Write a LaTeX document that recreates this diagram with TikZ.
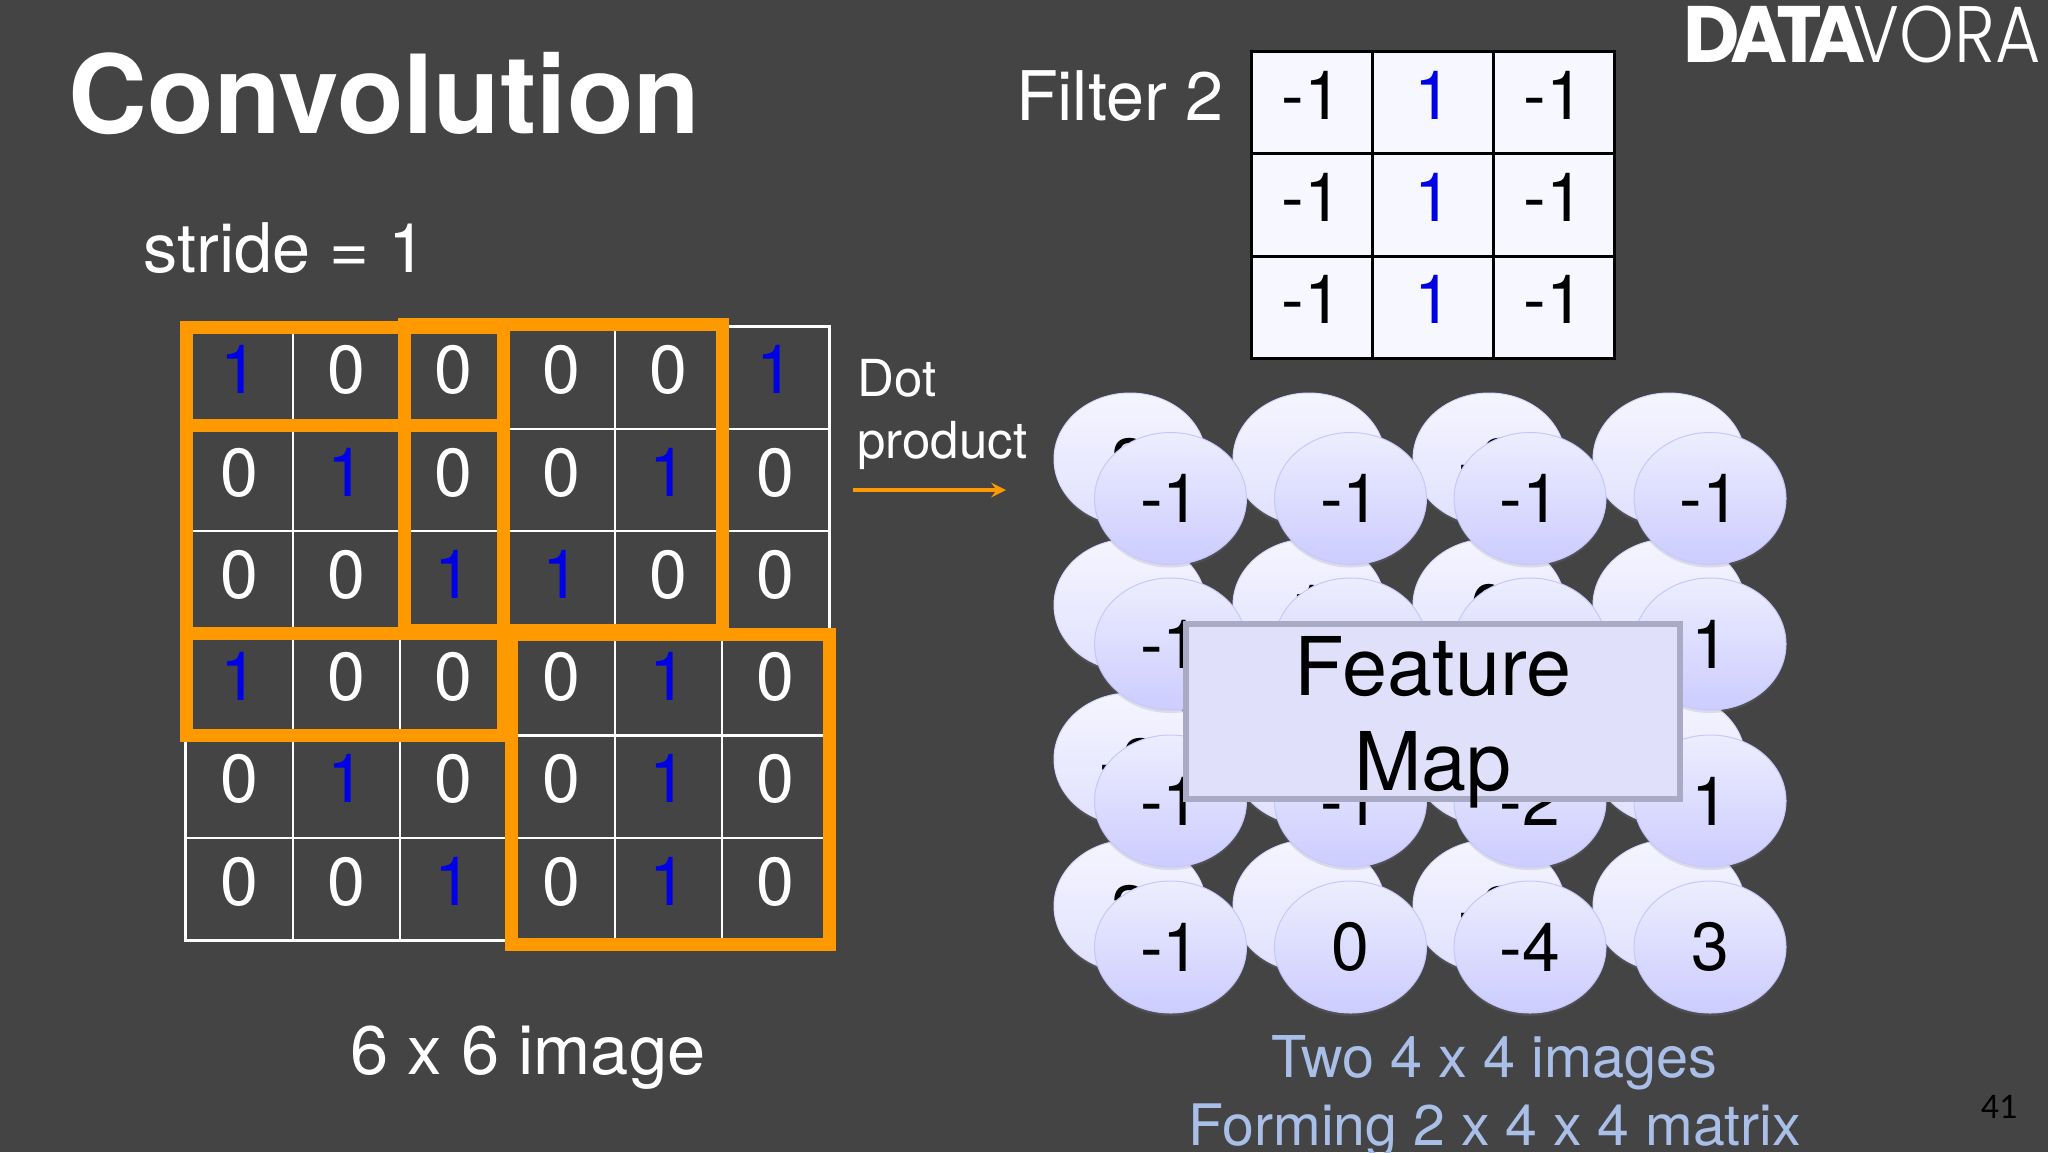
\documentclass[tikz,border=0pt]{standalone}
\usepackage{fontspec}
\setmainfont{TeX Gyre Heros}
\newfontfamily\logoheavy{Poppins}[UprightFont=*-Bold]
\newfontfamily\logolight{Poppins}[UprightFont=*-Light]
\newfontfamily\pagefont{Carlito}
\usepackage{tikz}
\usetikzlibrary{shapes.geometric,shadows}
\definecolor{slide}{HTML}{444444}
\definecolor{win}{HTML}{FF9900}
\definecolor{oneblue}{HTML}{0000E6}
\definecolor{capblue}{HTML}{A9BFE8}
\definecolor{mapline}{HTML}{AAAAC4}
\definecolor{mapfill}{HTML}{E0E0FA}
\tikzstyle{cell} = [rectangle, draw=white, line width=1.25pt, text=white, minimum width=53.65pt, minimum height=51.15pt, inner sep=0pt, outer sep=0pt, text depth=8pt, font=\fontsize{34}{40}\selectfont]
\tikzstyle{fcell} = [rectangle, draw=black, line width=1.5pt, fill=white!97!blue, text=black, minimum width=60.7pt, minimum height=51.15pt, inner sep=0pt, outer sep=0pt, text depth=8pt, font=\fontsize{34}{40}\selectfont]
\tikzstyle{one} = [text=oneblue]
\tikzstyle{back} = [ellipse, minimum width=76pt, minimum height=66pt, inner sep=0pt, draw=white!85!blue, line width=.5pt, top color=white!96!blue, bottom color=white!88!blue, drop shadow={opacity=.2,shadow xshift=0pt,shadow yshift=-1.5pt}, text=black, text height=28.4pt, font=\fontsize{34}{40}\selectfont]
\tikzstyle{front} = [ellipse, minimum width=76pt, minimum height=66pt, inner sep=0pt, draw=white!78!blue, line width=.5pt, top color=white!93!blue, bottom color=white!80!blue, drop shadow={opacity=.2,shadow xshift=0pt,shadow yshift=-1.5pt}, text=black, font=\fontsize{34}{40}\selectfont]
\tikzstyle{window} = [draw=win, line width=6.5pt]
\tikzstyle{head} = [text=white, font=\fontsize{34.2}{40}\selectfont]

\begin{document}
\begin{tikzpicture}[x=0.5pt,y=-0.5pt]
	  \fill [slide] (0,0) rectangle (2048,1152);
	  \useasboundingbox (0,0) rectangle (2048,1152);

	  \node (title) at (384.5,94) [text=white, font=\bfseries\fontsize{54.5}{60}\selectfont] {Convolution};
	  \node (stride) at (285,248) [head] {stride = 1};
	  \node (filter) at (1120,96) [head] {Filter 2};
	  \node (logo) at (2041,34) [anchor=east, text=white, inner sep=0pt, font=\fontsize{40}{44}\selectfont] {\scalebox{.97}[1]{\logoheavy D\kern-5pt A\kern-6pt T\kern-7pt A}\kern-6pt\scalebox{.87}[1]{\logolight VORA}};

	  % image
	  \node (c11) at (239.2,377.6) [cell, one] {1};
	  \node (c12) at (346.5,377.6) [cell] {0};
	  \node (c13) at (453.8,377.6) [cell] {0};
	  \node (c14) at (561.1,377.6) [cell] {0};
	  \node (c15) at (668.4,377.6) [cell] {0};
	  \node (c16) at (775.7,377.6) [cell, one] {1};
	  \node (c21) at (239.2,479.9) [cell] {0};
	  \node (c22) at (346.5,479.9) [cell, one] {1};
	  \node (c23) at (453.8,479.9) [cell] {0};
	  \node (c24) at (561.1,479.9) [cell] {0};
	  \node (c25) at (668.4,479.9) [cell, one] {1};
	  \node (c26) at (775.7,479.9) [cell] {0};
	  \node (c31) at (239.2,582.2) [cell] {0};
	  \node (c32) at (346.5,582.2) [cell] {0};
	  \node (c33) at (453.8,582.2) [cell, one] {1};
	  \node (c34) at (561.1,582.2) [cell, one] {1};
	  \node (c35) at (668.4,582.2) [cell] {0};
	  \node (c36) at (775.7,582.2) [cell] {0};
	  \node (c41) at (239.2,684.5) [cell, one] {1};
	  \node (c42) at (346.5,684.5) [cell] {0};
	  \node (c43) at (453.8,684.5) [cell] {0};
	  \node (c44) at (561.1,684.5) [cell] {0};
	  \node (c45) at (668.4,684.5) [cell, one] {1};
	  \node (c46) at (775.7,684.5) [cell] {0};
	  \node (c51) at (239.2,786.8) [cell] {0};
	  \node (c52) at (346.5,786.8) [cell, one] {1};
	  \node (c53) at (453.8,786.8) [cell] {0};
	  \node (c54) at (561.1,786.8) [cell] {0};
	  \node (c55) at (668.4,786.8) [cell, one] {1};
	  \node (c56) at (775.7,786.8) [cell] {0};
	  \node (c61) at (239.2,889.1) [cell] {0};
	  \node (c62) at (346.5,889.1) [cell] {0};
	  \node (c63) at (453.8,889.1) [cell, one] {1};
	  \node (c64) at (561.1,889.1) [cell] {0};
	  \node (c65) at (668.4,889.1) [cell, one] {1};
	  \node (c66) at (775.7,889.1) [cell] {0};

	  \draw [window] (186,327) rectangle (503,633);
	  \draw [window] (186,425) rectangle (503,735);
	  \draw [window] (404,324) rectangle (722,630);
	  \draw [window] (511.5,634.5) rectangle (829,944);

	  \node (size) at (528,1058) [text=white, font=\fontsize{34.3}{40}\selectfont] {6 x 6 image};

	  % filter
	  \node (f11) at (1312,103) [fcell] {-1};
	  \node (f12) at (1433,103) [fcell, one] {1};
	  \node (f13) at (1554,103) [fcell] {-1};
	  \node (f21) at (1312,205) [fcell] {-1};
	  \node (f22) at (1433,205) [fcell, one] {1};
	  \node (f23) at (1554,205) [fcell] {-1};
	  \node (f31) at (1312,307.5) [fcell] {-1};
	  \node (f32) at (1433,307.5) [fcell, one] {1};
	  \node (f33) at (1554,307.5) [fcell] {-1};

	  \node (dot) at (857,414) [anchor=west, align=left, inner sep=0pt, text=white, font=\fontsize{25.5}{31}\selectfont] {Dot\\product};
	  \coordinate (from) at (853,490);
	  \coordinate (to) at (1006,490);
	  \draw [->, >=stealth, win, line width=2.2pt] (from) -- (to);

	  % first filter, behind
	  \node (b11) at (1130,459) [back] {3};
	  \node (b12) at (1309,459) [back] {};
	  \node (b13) at (1489,459) [back] {-3};
	  \node (b14) at (1669,459) [back] {};
	  \node (b21) at (1130,605) [back] {};
	  \node (b22) at (1309,605) [back] {1};
	  \node (b23) at (1489,605) [back] {0};
	  \node (b24) at (1669,605) [back] {};
	  \node (b31) at (1130,759) [back] {-3};
	  \node (b32) at (1309,759) [back] {};
	  \node (b33) at (1489,759) [back] {};
	  \node (b34) at (1669,759) [back] {};
	  \node (b41) at (1130,906) [back] {3};
	  \node (b42) at (1309,906) [back] {};
	  \node (b43) at (1489,906) [back] {-2};
	  \node (b44) at (1669,906) [back] {};

	  % second filter, in front
	  \node (m11) at (1170.5,498.5) [front] {-1};
	  \node (m12) at (1350.5,498.5) [front] {-1};
	  \node (m13) at (1530,498.5) [front] {-1};
	  \node (m14) at (1710,498.5) [front] {-1};
	  \node (m21) at (1170.5,644) [front] {-1};
	  \node (m22) at (1350.5,644) [front] {};
	  \node (m23) at (1530,644) [front] {};
	  \node (m24) at (1710,644) [front] {1};
	  \node (m31) at (1170.5,801) [front] {-1};
	  \node (m32) at (1350.5,801) [front] {-1};
	  \node (m33) at (1530,801) [front] {-2};
	  \node (m34) at (1710,801) [front] {1};
	  \node (m41) at (1170.5,947) [front] {-1};
	  \node (m42) at (1350.5,947) [front] {0};
	  \node (m43) at (1530,947) [front] {-4};
	  \node (m44) at (1710,947) [front] {3};

	  \node (map) at (1433,711.5) [rectangle, draw=mapline, line width=3.2pt, fill=mapfill, minimum width=247pt, minimum height=87.5pt, inner sep=0pt] {};
	  \node (maptext) at (1433,722) [text=black, inner sep=0pt, align=center, font=\fontsize{40.5}{47.5}\selectfont] {Feature\\Map};

	  \node (two) at (1494.5,1063) [text=capblue, font=\fontsize{28.8}{34}\selectfont] {Two 4 x 4 images};
	  \node (forming) at (1495,1131) [text=capblue, font=\fontsize{28.6}{34}\selectfont] {Forming 2 x 4 x 4 matrix};
	  \node (page) at (1999,1107) [text=black, font=\pagefont\fontsize{18}{20}\selectfont] {41};
	\end{tikzpicture}
\end{document}
